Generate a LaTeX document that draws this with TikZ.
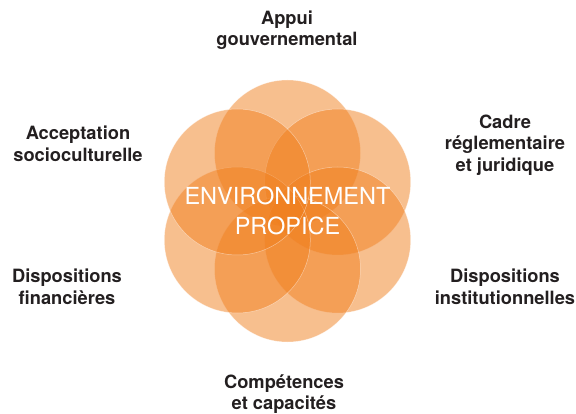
\documentclass[tikz,border=0pt]{standalone}
\usepackage{fontspec}
\setmainfont{TeX Gyre Heros}
\usetikzlibrary{calc}
\definecolor{petalorange}{RGB}{240,127,30}
\definecolor{labeltext}{RGB}{35,31,32}
\begin{document}
\begin{tikzpicture}[x=1pt,y=-1pt,
  petal/.style={circle,minimum size=146pt,inner sep=0pt,fill=petalorange,fill opacity=0.5,draw=white,draw opacity=0.45,line width=0.5pt},
  outer/.style={align=center,text=labeltext,font=\bfseries\fontsize{18.3}{21.5}\selectfont},
  centre/.style={align=center,text=white,font=\fontsize{23.5}{30}\selectfont}]
\useasboundingbox (0,0) rectangle (576,414);
\coordinate (c) at (287.5,211);
\node[petal] (p1) at ($(c)+(0,-58)$) {};
\node[petal] (p2) at ($(c)+(50.2,-29)$) {};
\node[petal] (p3) at ($(c)+(50.2,29)$) {};
\node[petal] (p4) at ($(c)+(0,58)$) {};
\node[petal] (p5) at ($(c)+(-50.2,29)$) {};
\node[petal] (p6) at ($(c)+(-50.2,-29)$) {};
\node[centre] (mid) at (c) {ENVIRONNEMENT\\PROPICE};
\node[outer] (l1) at (287,30) {Appui\\gouvernemental};
\node[outer] (l2) at (505,145) {Cadre\\réglementaire\\et juridique};
\node[outer] (l3) at (505,287) {Dispositions\\institutionnelles};
\node[outer] (l4) at (284,394) {Compétences\\et capacités};
\node[outer] (l5) at (67,287) {Dispositions\\financières};
\node[outer] (l6) at (78,144) {Acceptation\\socioculturelle};
\end{tikzpicture}
\end{document}
